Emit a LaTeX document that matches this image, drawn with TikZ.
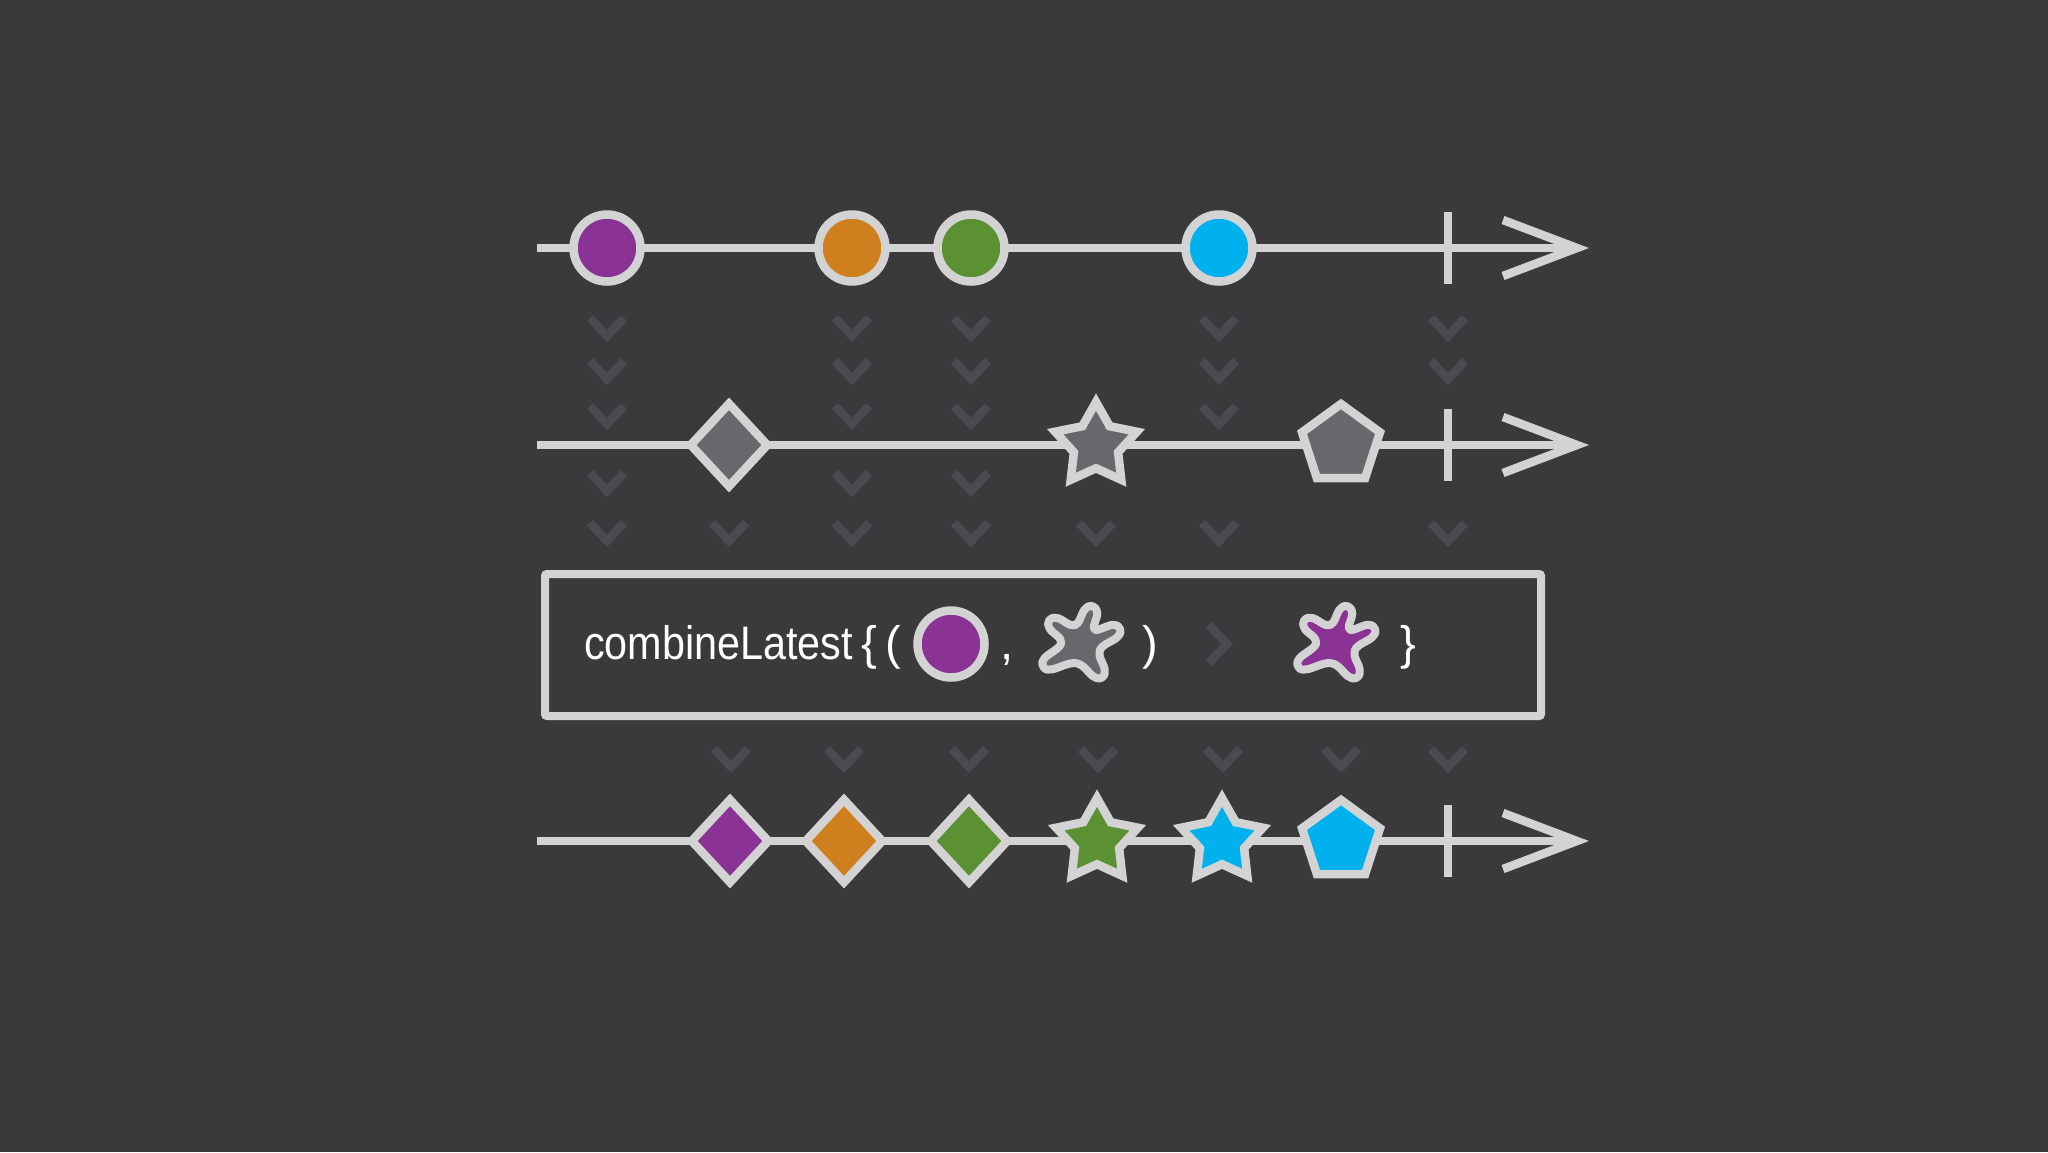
\documentclass[tikz,border=0pt]{standalone}
\usepackage{fontspec}
\setmainfont{Liberation Sans}
\usepackage{xcolor}
\usepackage{tikz}
\usetikzlibrary{arrows.meta,shapes.geometric}

\definecolor{bg}{HTML}{3A393B}
\definecolor{rim}{HTML}{D3D3D3}
\definecolor{hint}{HTML}{4B4A4E}
\definecolor{purp}{HTML}{8B3394}
\definecolor{orng}{HTML}{D07F1E}
\definecolor{grn}{HTML}{5B9033}
\definecolor{sky}{HTML}{00B1EE}
\definecolor{slate}{HTML}{68676B}

\tikzset{splat/.pic={
  \path[pic actions, draw=rim, line width=8pt, line join=round]
    plot[smooth cycle, tension=0.7] coordinates
    {(-28.4,-13.9) (-28.8,-21.7) (-21.2,-23.5) (-5.6,-17.1)
     (3.4,-31.4) (10.5,-34.4) (14.8,-27.8) (12.3,-13.2)
     (28.7,-17.4) (35.5,-13.6) (32.9,-6.2) (17.1,5.7)
     (21.5,23.1) (19.1,30.5) (11.3,29.5) (-4.2,17.5)
     (-26.9,23.1) (-34.3,20.6) (-33.1,12.9) (-18,-0.9)};
}}

\begin{document}
\begin{tikzpicture}[x=1pt,y=-1pt]
\tikzstyle{timeline}=[rim, line width=8.5pt, -{Straight Barb[length=74pt,width=56pt]}]
\tikzstyle{tick}=[rim, line width=7.5pt]
\tikzstyle{marble}=[circle, draw=rim, line width=8.5pt, minimum size=67pt, inner sep=0pt]
\tikzstyle{gem}=[diamond, draw=rim, line width=8.5pt, minimum width=80pt, minimum height=86pt, inner sep=0pt]
\tikzstyle{starry}=[star, star points=5, star point ratio=1.85, draw=rim, line width=8.5pt, minimum size=86pt, inner sep=0pt]
\tikzstyle{penta}=[regular polygon, regular polygon sides=5, draw=rim, line width=8.5pt, minimum size=82pt, inner sep=0pt]
\tikzstyle{chevron}=[hint, line width=8.5pt]
\tikzstyle{codetext}=[white, font=\fontsize{47}{50}\selectfont, inner sep=0pt, anchor=base]

\fill[bg] (0,0) rectangle (2048,1152);

% hints
\foreach \y in {327,370}
  \foreach \x in {607,852,971,1219,1448}
    \draw[chevron] (\x-17,\y-9) -- (\x,\y+9) -- (\x+17,\y-9);
\foreach \x in {607,852,971,1219}
  \draw[chevron] (\x-17,406) -- (\x,424) -- (\x+17,406);
\foreach \x in {607,852,971}
  \draw[chevron] (\x-17,473) -- (\x,491) -- (\x+17,473);
\foreach \x in {607,729,852,971,1096,1219,1448}
  \draw[chevron] (\x-17,523) -- (\x,541) -- (\x+17,523);
\foreach \x in {731,844,969,1098,1223,1341,1448}
  \draw[chevron] (\x-17,749) -- (\x,767) -- (\x+17,749);

% first stream
\coordinate (a0) at (537,248);
\coordinate (a1) at (1589,248);
\draw[timeline] (a0) -- (a1);
\draw[tick] (1448,212) -- (1448,284);
\node[marble, fill=purp] (p1) at (607,248) {};
\node[marble, fill=orng] (o1) at (852,248) {};
\node[marble, fill=grn] (g1) at (971,248) {};
\node[marble, fill=sky] (s1) at (1219,248) {};

% second stream
\coordinate (b0) at (537,445);
\coordinate (b1) at (1589,445);
\draw[timeline] (b0) -- (b1);
\draw[tick] (1448,409) -- (1448,481);
\node[gem, fill=slate] (d2) at (729,445) {};
\node[starry, fill=slate] (st2) at (1096,445) {};
\node[penta, fill=slate] (pe2) at (1341,445) {};

% operator
\node[draw=rim, line width=8pt, rounded corners=2pt, minimum width=996pt, minimum height=142pt] (box) at (1043,645) {};
\node[codetext, anchor=base west] (fn) at (584,659) {\scalebox{0.88}[1]{combineLatest}};
\node[codetext] (lb) at (869,659) {\{};
\node[codetext] (lp) at (893,659) {(};
\node[marble, fill=purp] (pm) at (951,644) {};
\node[codetext] (cm) at (1007,659) {,};
\pic[fill=slate, scale=1.1] at (1081,644) {splat};
\node[codetext] (rp) at (1150,659) {)};
\draw[chevron] (1209,625) -- (1227,644) -- (1209,663);
\pic[fill=purp, scale=1.1] at (1336,644) {splat};
\node[codetext] (rb) at (1408,659) {\}};

% result stream
\coordinate (c0) at (537,841);
\coordinate (c1) at (1589,841);
\draw[timeline] (c0) -- (c1);
\draw[tick] (1448,805) -- (1448,877);
\node[gem, fill=purp] (d3a) at (730,841) {};
\node[gem, fill=orng] (d3b) at (844,841) {};
\node[gem, fill=grn] (d3c) at (969,841) {};
\node[starry, fill=grn] (st3a) at (1097,841) {};
\node[starry, fill=sky] (st3b) at (1222,841) {};
\node[penta, fill=sky] (pe3) at (1341,841) {};

\end{tikzpicture}
\end{document}
